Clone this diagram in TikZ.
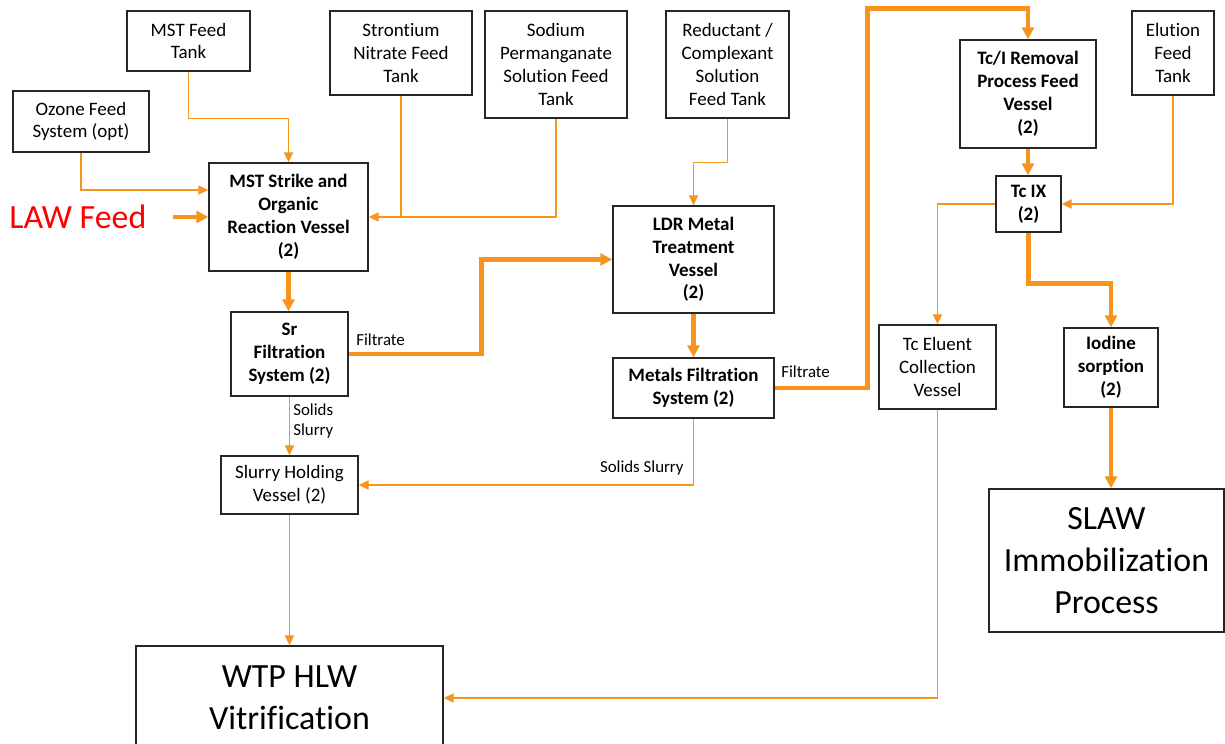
\documentclass[tikz,border=0pt]{standalone}
\usepackage{fontspec}
\setmainfont{Carlito}[Ligatures={NoCommon}]
\usetikzlibrary{arrows.meta,calc}
\definecolor{flow}{RGB}{247,148,29}
\definecolor{lawred}{RGB}{255,0,0}

% Block given by its corners (x1,y1) and (x2,y2) in pixel units
\newcommand{\blk}[7][]{%
  \node[blockbox,#1,minimum width={(#5-#3)*0.02cm},minimum height={(#6-#4)*0.02cm}]
    (#2) at ({(#3+#5)/2},{(#4+#6)/2}) {#7};}

\begin{document}
\begin{tikzpicture}[x=0.02cm,y=-0.02cm,
  blockbox/.style={draw=black!85,line width=0.8pt,rectangle,align=center,
    inner sep=1pt,text=black,font=\fontsize{10.8}{13}\selectfont},
  bold/.style={font=\fontsize{10.8}{13}\selectfont\bfseries},
  big/.style={font=\fontsize{19.3}{23.8}\selectfont},
  lbl/.style={font=\fontsize{9.6}{11.9}\selectfont,inner sep=0pt,align=left,text=black},
  lawtext/.style={font=\fontsize{19.3}{23.8}\selectfont,text=lawred,inner sep=0pt},
  thinflow/.style={draw=flow,line width=0.9pt,-{Triangle[length=5.7pt,width=5.2pt]}},
  thickflow/.style={draw=flow,line width=2.8pt,-{Triangle[length=6.8pt,width=6.8pt]}},
  plainflow/.style={draw=flow,line width=0.9pt}]

\clip (0,0) rectangle (1225,744);
\fill[white] (0,0) rectangle (1225,744);

% Feed tanks
\blk{mstfeed}{127}{11}{250}{71}{MST Feed\\Tank}
\blk{ozone}{13}{91}{149}{152}{Ozone Feed\\System (opt)}
\blk{srnit}{330}{11}{472}{95}{Strontium\\Nitrate Feed\\Tank}
\blk{permang}{485}{11}{627}{118}{Sodium\\Permanganate\\Solution Feed\\Tank}
\blk{reduct}{666}{11}{789}{118}{Reductant /\\Complexant\\Solution\\Feed Tank}
\blk{elution}{1132}{11}{1214}{95}{Elution\\Feed\\Tank}

% Process vessels and systems
\blk[bold]{mst}{209}{163}{368}{271}{MST Strike and\\Organic\\Reaction Vessel\\(2)}
\blk[bold]{srfilt}{231}{312}{348}{396}{Sr\\Filtration\\System (2)}
\blk{slurry}{221}{456}{358}{514}{Slurry Holding\\Vessel (2)}
\blk[bold]{ldr}{613}{206}{774}{313}{LDR Metal\\Treatment\\Vessel\\(2)}
\blk[bold]{metals}{613}{358}{774}{418}{Metals Filtration\\System (2)}
\blk[bold]{tci}{960}{40}{1096}{148}{Tc/I Removal\\Process Feed\\Vessel\\(2)}
\blk[bold]{tcix}{996}{176}{1061}{232}{Tc IX\\(2)}
\blk{eluent}{879}{325}{996}{409}{Tc Eluent\\Collection\\Vessel}
\blk[bold]{iodine}{1064}{328}{1158}{407}{Iodine\\sorption\\(2)}

% Destinations
\blk[big]{slaw}{989}{489}{1224}{632}{SLAW\\Immobilization\\Process}
\blk[big]{wtp}{136}{646}{443}{750}{WTP HLW\\Vitrification}

% LAW feed input
\node[lawtext,anchor=west] (law) at (9,217) {LAW Feed};
\coordinate (lawin) at (173,217);
\draw[thickflow] (lawin) -- (mst.west);

% Reagent feeds
\draw[thinflow] (mstfeed.south) -- ++(0,47) -| (mst.north);
\draw[thinflow] (ozone.south) |- ($(mst.west)+(0,-27)$);
\draw[thinflow] (srnit.south) |- (mst.east);
\draw[plainflow] (permang.south) |- (srnit.south |- mst.east);
\draw[thinflow] (reduct.south) -- ++(0,44) -| (ldr.north);
\draw[thinflow] (elution.south) |- (tcix.east);

% Main process stream
\draw[thickflow] (mst.south) -- (mst.south |- srfilt.north);
\draw[thickflow] (srfilt.east) -- ++(133,0) |- (ldr.west);
\draw[thickflow] (ldr.south) -- (metals.north);
\draw[thickflow] (metals.east) -- ++(93,0) |- ($(tci.north)+(0,-31)$) -- (tci.north);
\draw[thickflow] (tci.south) -- (tci.south |- tcix.north);
\draw[thickflow] (tcix.south) -- ++(0,51) -| (iodine.north);
\draw[thickflow] (iodine.south) -- (iodine.south |- slaw.north);

% Solids and eluent streams
\draw[thinflow] (srfilt.south) -- (srfilt.south |- slurry.north);
\draw[thinflow] (metals.south) |- (slurry.east);
\draw[thinflow] (tcix.west) -| (eluent.north);
\draw[thinflow] (eluent.south) |- (wtp.east);
\draw[thinflow] (slurry.south) -- (wtp.north);

% Stream labels
\node[lbl,anchor=west] (filt1) at (356,340) {Filtrate};
\node[lbl,anchor=west] (ss1) at (293,421) {Solids\\Slurry};
\node[lbl,anchor=east] (ss2) at (684,468) {Solids Slurry};
\node[lbl,anchor=west] (filt2) at (781,372) {Filtrate};
\end{tikzpicture}
\end{document}
